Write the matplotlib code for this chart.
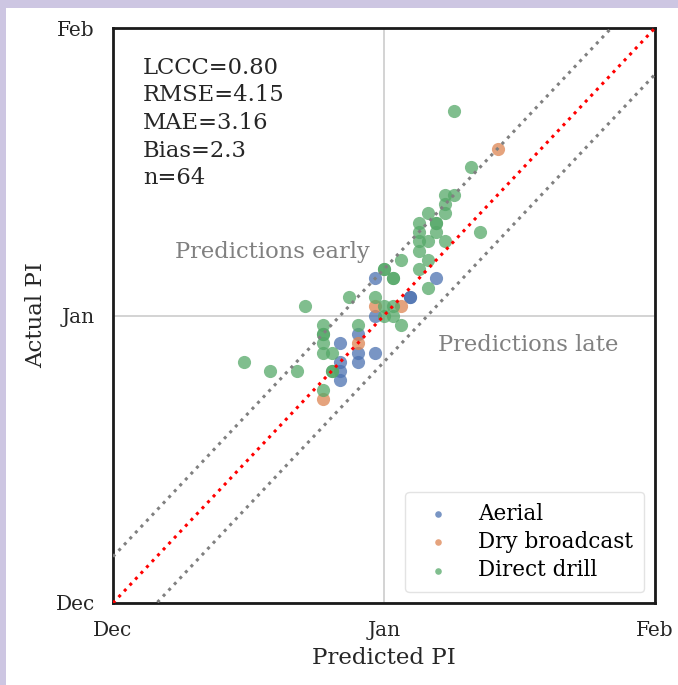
import numpy as np
import matplotlib.pyplot as plt
from matplotlib.patches import Rectangle

# days since 1 Dec (predicted, actual)
aerial_pred = [30, 28, 26, 28, 30, 26, 28, 26, 26, 30, 37, 34, 34]
aerial_act = [31, 29, 28, 27, 27, 26, 26, 25, 24, 35, 35, 33, 33]

dry_pred = [30, 33, 28, 24, 44]
dry_act = [32, 32, 28, 22, 49]

drill_pred = [22, 27, 30, 24, 28, 24, 24, 24, 25, 15, 18, 21, 25, 24,
              35, 37, 35, 36, 38, 35, 33, 36, 31, 35, 32, 36, 31, 32,
              31, 32, 33, 41, 38, 39, 38, 38, 36, 37, 35, 42, 39,
              31, 32, 37, 24, 25]
drill_act = [32, 33, 33, 30, 30, 29, 28, 27, 27, 26, 25, 25, 25, 23,
             40, 40, 39, 39, 39, 38, 37, 37, 36, 36, 35, 34, 32, 32,
             31, 31, 30, 47, 44, 44, 43, 42, 42, 41, 41, 40, 53,
             36, 35, 41, 29, 25]

tick_pos = [0, 31, 62]
tick_labels = ['Dec', 'Jan', 'Feb']
stats = ['LCCC=0.80', 'RMSE=4.15', 'MAE=3.16', 'Bias=2.3', 'n=64']
band = 5


def main():
    plt.rcParams['font.family'] = 'DejaVu Serif'
    fig = plt.figure(figsize=(6.78, 6.85), dpi=100)
    fig.patch.set_facecolor('white')
    lav = '#cdc6e2'
    fig.add_artist(Rectangle((0, 1 - 8 / 685), 1, 8 / 685, transform=fig.transFigure,
                             facecolor=lav, edgecolor='none'))
    fig.add_artist(Rectangle((0, 0), 6 / 678, 1, transform=fig.transFigure,
                             facecolor=lav, edgecolor='none'))

    ax = fig.add_axes([113 / 678, 1 - 603 / 685, 542 / 678, 575 / 685])

    ax.grid(True, color='#cccccc', linewidth=1.2, zorder=0)
    ax.set_axisbelow(True)

    groups = [('Aerial', aerial_pred, aerial_act, '#4c72b0'),
              ('Dry broadcast', dry_pred, dry_act, '#dd8452'),
              ('Direct drill', drill_pred, drill_act, '#55a868')]
    for name, xs, ys, c in groups:
        ax.scatter(xs, ys, s=90, color=c, alpha=0.75, linewidths=0, label=name, zorder=3)

    line = np.array([tick_pos[0], tick_pos[-1]])
    ax.plot(line, line, ':', color='red', linewidth=2.2, zorder=4)
    ax.plot(line, line + band, ':', color='grey', linewidth=2.2, zorder=4)
    ax.plot(line, line - band, ':', color='grey', linewidth=2.2, zorder=4)

    ax.set_xlim(tick_pos[0], tick_pos[-1])
    ax.set_ylim(tick_pos[0], tick_pos[-1])
    ax.set_xticks(tick_pos)
    ax.set_xticklabels(tick_labels)
    ax.set_yticks(tick_pos)
    ax.set_yticklabels(tick_labels)
    ax.tick_params(length=0, labelsize=14.5, pad=13, colors='#262626')

    for s in ax.spines.values():
        s.set_color('#1a1a1a')
        s.set_linewidth(2)

    ax.set_xlabel('Predicted PI', fontsize=16.5, color='#262626', labelpad=5)
    ax.set_ylabel('Actual PI', fontsize=16.5, color='#262626', labelpad=6)

    ax.text(0.055, 0.95, '\n'.join(stats), transform=ax.transAxes, fontsize=16.3,
            va='top', ha='left', color='#262626', linespacing=1.33)
    ax.text(0.115, 0.61, 'Predictions early', transform=ax.transAxes, fontsize=16.3,
            color='grey', va='center')
    ax.text(0.599, 0.448, 'Predictions late', transform=ax.transAxes, fontsize=16.3,
            color='grey', va='center')

    leg = ax.legend(loc='lower right', fontsize=15.5, markerscale=0.5, frameon=True,
                    borderpad=0.5, handletextpad=0.9, labelspacing=0.3)
    leg.get_frame().set_edgecolor('#dddddd')

    fig.savefig('out.png', dpi=100)


if __name__ == '__main__':
    main()
